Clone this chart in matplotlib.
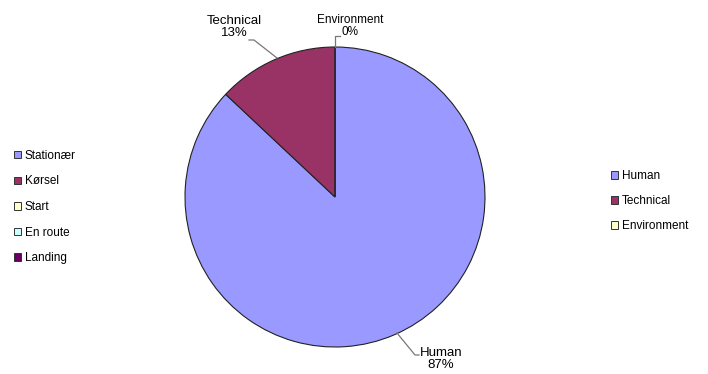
import matplotlib.pyplot as plt
from matplotlib.patches import Patch

plt.rcParams['font.family'] = ['Liberation Sans', 'DejaVu Sans']

# pie data
causes = ['Human', 'Technical', 'Environment']
shares = [87, 13, 0]
cause_colors = ['#9999FF', '#993366', '#FFFFCC']

# phases listed in the left-hand legend
phases = ['Stationær', 'Kørsel', 'Start', 'En route', 'Landing']
phase_colors = ['#9999FF', '#993366', '#FFFFCC', '#CCFFFF', '#660066']

W, H = 708, 374
fig = plt.figure(figsize=(W / 100, H / 100), dpi=100)
fig.patch.set_facecolor('white')

cx, cy, r = 335, 197, 150
ax = fig.add_axes([(cx - r) / W, (H - cy - r) / H, 2 * r / W, 2 * r / H])

ax.pie(shares, colors=cause_colors, startangle=90, counterclock=False,
       radius=1, wedgeprops=dict(edgecolor='#222222', linewidth=0.8))
ax.set_xlim(-1, 1)
ax.set_ylim(-1, 1)
ax.set_aspect('equal')
ax.axis('off')


def px(x, y):
    # pixel position -> pie data coordinates
    return (x - cx) / r, (cy - y) / r


line_kw = dict(color='#777777', linewidth=0.9, clip_on=False)

# Human
pts = [px(397, 333), px(415, 355), px(419, 355)]
ax.plot(*zip(*pts), **line_kw)
ax.text(*px(441, 359), f'{causes[0]}\n{shares[0]}%', ha='center', va='center',
        fontsize=9.5, linespacing=1.1, clip_on=False)

# Technical
pts = [px(277, 58), px(254, 40), px(249, 40)]
ax.plot(*zip(*pts), **line_kw)
ax.text(*px(234, 27), f'{causes[1]}\n{shares[1]}%', ha='center', va='center',
        fontsize=9.5, linespacing=1.1, clip_on=False)

# Environment
pts = [px(335, 47), px(335, 36), px(340, 36)]
ax.plot(*zip(*pts), **line_kw)
ax.text(*px(350, 26), f'{causes[2]}\n{shares[2]}%', ha='center', va='center',
        fontsize=8.5, linespacing=1.05, clip_on=False)

leg_kw = dict(frameon=False, fontsize=8.5, handlelength=0.6, handleheight=0.6,
              handletextpad=0.3, borderpad=0, borderaxespad=0)

left_handles = [Patch(facecolor=c, edgecolor='#333333', linewidth=0.7) for c in phase_colors]
fig.legend(left_handles, phases, loc='center left',
           bbox_to_anchor=(14 / W, 1 - 207 / H), labelspacing=1.15, **leg_kw)

right_handles = [Patch(facecolor=c, edgecolor='#333333', linewidth=0.7) for c in cause_colors]
fig.legend(right_handles, causes, loc='center left',
           bbox_to_anchor=(611 / W, 1 - 201 / H), labelspacing=1.1, **leg_kw)

fig.savefig('out.png', dpi=100)
